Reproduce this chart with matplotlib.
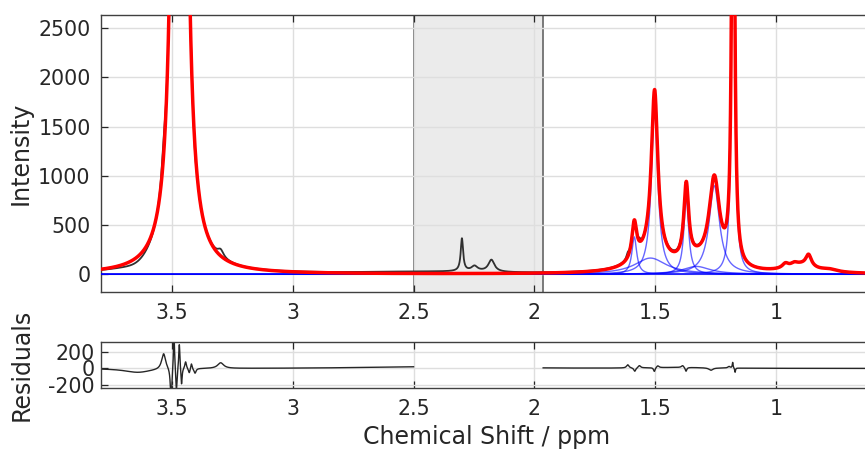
import numpy as np
import matplotlib
matplotlib.use("Agg")
import matplotlib.pyplot as plt

plt.rcParams['font.family'] = ['DejaVu Sans']
plt.rcParams['axes.unicode_minus'] = False

# ---- data ----
# fitted Lorentzian components (ppm, height, half-width)
comp_center = [3.468, 1.587, 1.520, 1.503, 1.372, 1.330, 1.256, 1.178]
comp_height = [54000, 380, 165, 1680, 770, 80, 900, 6500]
comp_width = [0.010, 0.012, 0.080, 0.016, 0.012, 0.070, 0.026, 0.006]

# small fitted features near 0.9 ppm (part of the fit, not drawn separately)
minor_center = [0.900, 0.962, 0.925, 0.866, 0.780]
minor_height = [80, 45, 25, 120, 25]
minor_width = [0.070, 0.015, 0.015, 0.014, 0.040]

# signals in the excluded region (data only)
excl_center = [2.300, 2.248, 2.178, 2.250]
excl_height = [330, 50, 120, 12]
excl_width = [0.006, 0.015, 0.015, 0.120]

# misfit features (data - fit)
resid_center = [3.640, 3.534, 3.503, 3.491, 3.481, 3.469, 3.460, 3.443, 3.428,
                3.419, 3.404, 3.298, 2.500, 1.614, 1.585, 1.566, 1.504, 1.490,
                1.387, 1.373, 1.270, 1.195, 1.180, 1.170, 1.400]
resid_amp = [-50, 200, -400, 450, -300, 330, -220, 90, -60, 70, -60, 70, 18,
             40, -45, 30, -50, 25, 25, -50, -30, 20, 70, -55, 12]
resid_width = [0.070, 0.010, 0.004, 0.003, 0.003, 0.003, 0.003, 0.004, 0.004,
               0.003, 0.005, 0.015, 0.300, 0.006, 0.005, 0.006, 0.004, 0.006,
               0.006, 0.004, 0.010, 0.006, 0.002, 0.002, 0.150]

excluded = [2.5, 1.964]
x_limits = [3.793, 0.602]
top_yticks = [0, 500, 1000, 1500, 2000, 2500]
bot_yticks = [-200, 0, 200]
xticks = [1, 1.5, 2, 2.5, 3, 3.5]


def lorentz(x, c, h, w):
    return h / (1.0 + ((x - c) / w) ** 2)


ppm = np.linspace(3.80, 0.59, 16000)
components = [lorentz(ppm, c, h, w) for c, h, w in zip(comp_center, comp_height, comp_width)]
minor = sum(lorentz(ppm, c, h, w) for c, h, w in zip(minor_center, minor_height, minor_width))
fit = sum(components) + minor
resid_part = sum(lorentz(ppm, c, h, w) for c, h, w in zip(resid_center, resid_amp, resid_width))
excl_part = sum(lorentz(ppm, c, h, w) for c, h, w in zip(excl_center, excl_height, excl_width))
data = fit + resid_part + excl_part
residual = data - fit
mask = (ppm < excluded[0]) & (ppm > excluded[1])
residual = np.where(mask, np.nan, residual)

W, H = 865, 450
fig = plt.figure(figsize=(W / 100, H / 100), dpi=100)
txt = '#262626'
left = 101 / W
width = (872.4 - 101) / W
ax = fig.add_axes([left, 1 - 292.3 / H, width, (292.3 - 15) / H])
ax2 = fig.add_axes([left, 1 - 388.3 / H, width, (388.3 - 341.7) / H])

ax.axvspan(excluded[1], excluded[0], color='#ebebeb', zorder=0.3, lw=0)
for e in excluded:
    ax.axvline(e, color='#707070', lw=1.3, zorder=0.35)

ax.plot(ppm, data, color='#303030', lw=1.3, zorder=2)
for comp in components:
    ax.plot(ppm, comp, color='blue', lw=1.0, alpha=0.6, zorder=3)
ax.plot(ppm, fit, color='red', lw=2.5, zorder=4)

ax2.plot(ppm, residual, color='#262626', lw=1.0, zorder=2)

for a in (ax, ax2):
    a.set_xlim(x_limits)
    a.set_xticks(xticks)
    a.set_xticklabels([('%g' % v) for v in xticks])
    a.set_axisbelow(True)
    a.grid(True, color='#dedede', lw=1.0)
    a.tick_params(direction='in', length=5, width=0.9, color=txt, labelcolor=txt,
                  labelsize=14.8, top=True, right=True, pad=8)
    for s in a.spines.values():
        s.set_color('#404040')
        s.set_linewidth(1.0)

ax.set_ylim(-183, 2635)
ax.set_yticks(top_yticks)
ax.tick_params(axis='y', pad=7.5)
ax.set_ylabel('Intensity', fontsize=17, color=txt)
ax.yaxis.set_label_coords(-0.0885, 0.5)

ax2.set_ylim(-245, 331)
ax2.set_yticks(bot_yticks)
ax2.tick_params(axis='y', pad=4.8)
ax2.set_ylabel('Residuals', fontsize=17, color=txt)
ax2.yaxis.set_label_coords(-0.0878, 0.5)
ax2.set_xlabel('Chemical Shift / ppm', fontsize=17, color=txt, labelpad=4)

fig.savefig('out.png', dpi=100)
